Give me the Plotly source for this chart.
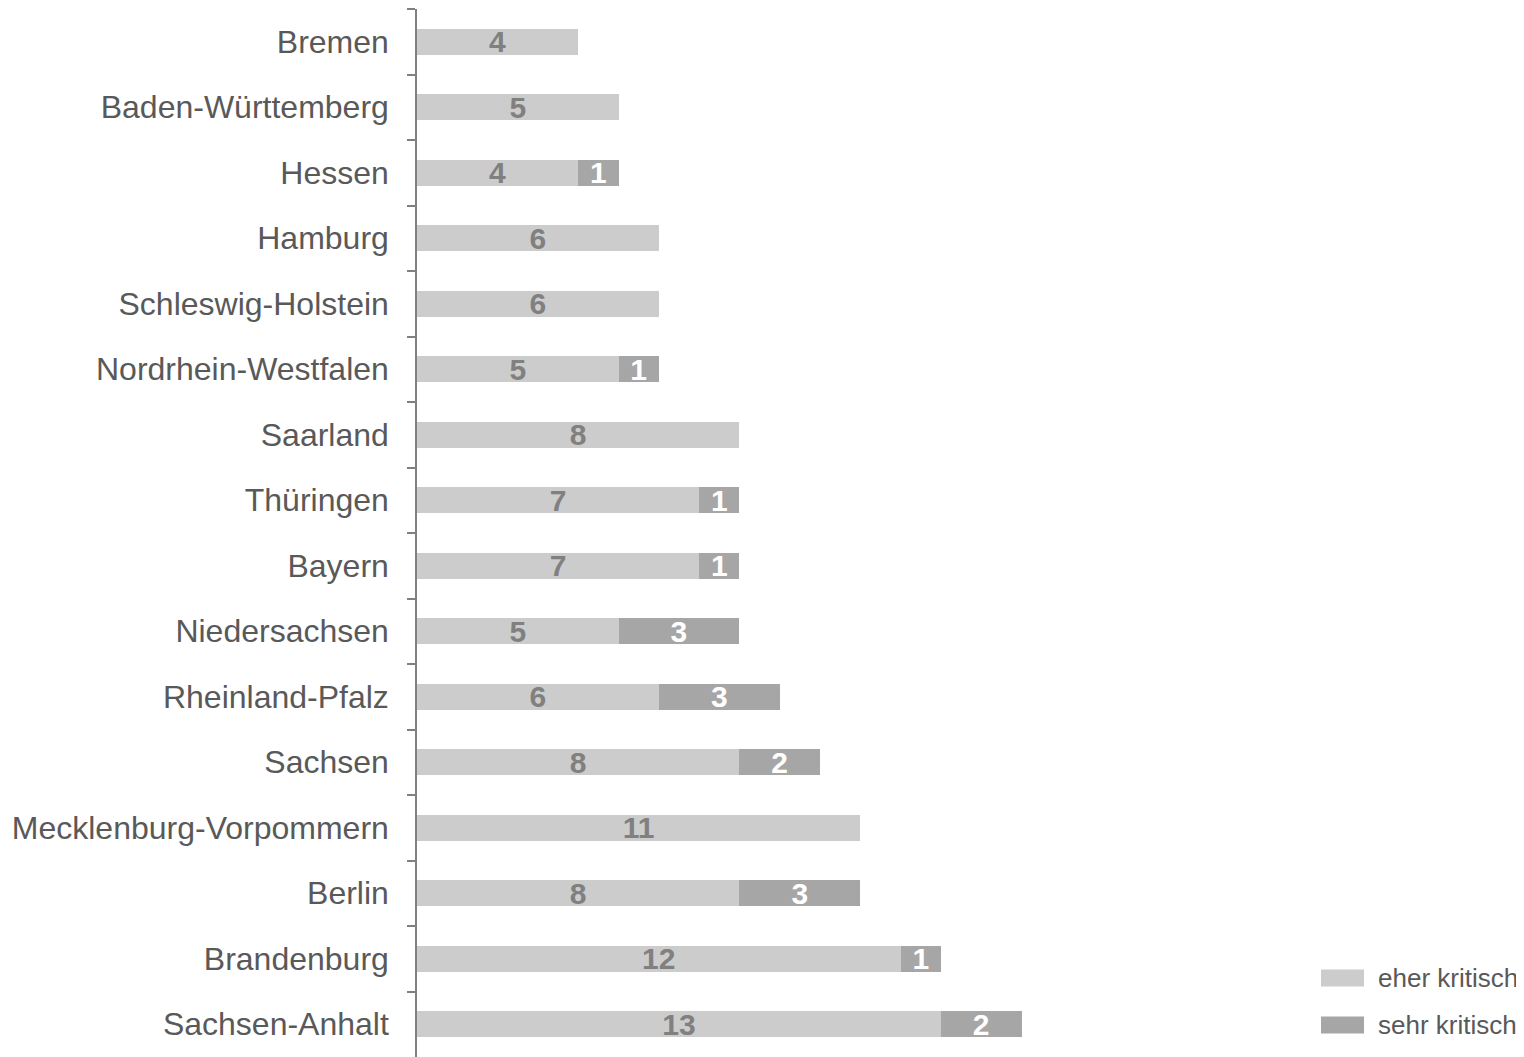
import plotly.graph_objects as go

categories = ["Bremen", "Baden-Württemberg", "Hessen", "Hamburg", "Schleswig-Holstein",
              "Nordrhein-Westfalen", "Saarland", "Thüringen", "Bayern", "Niedersachsen",
              "Rheinland-Pfalz", "Sachsen", "Mecklenburg-Vorpommern", "Berlin",
              "Brandenburg", "Sachsen-Anhalt"]
eher_kritisch = [4, 5, 4, 6, 6, 5, 8, 7, 7, 5, 6, 8, 11, 8, 12, 13]
sehr_kritisch = [0, 0, 1, 0, 0, 1, 0, 1, 1, 3, 3, 2, 0, 3, 1, 2]
series_names = ["eher kritisch", "sehr kritisch"]

OFF = 8  # browser body margin
W, H = 1524 - OFF, 1057 - OFF
L, R, T, B = 417 - OFF, 221, 9 - OFF, 0
PX_PER_UNIT = 40.3
plot_w = W - L - R
x_max = plot_w / PX_PER_UNIT

light, dark = "#cccccc", "#a6a6a6"
text_gray = "#595959"

def lab(vals):
    return [str(v) if v else "" for v in vals]

fig = go.Figure()
fig.add_trace(go.Bar(
    y=categories, x=eher_kritisch, orientation="h", name=series_names[0],
    marker=dict(color=light, line=dict(width=0)), width=0.4,
    text=lab(eher_kritisch), textposition="inside", insidetextanchor="middle",
    textangle=0, constraintext="none",
    textfont=dict(family="Liberation Sans, Arial", size=30, color="#808080", weight="bold"),
    showlegend=False, hoverinfo="skip"))
fig.add_trace(go.Bar(
    y=categories, x=sehr_kritisch, orientation="h", name=series_names[1],
    marker=dict(color=dark, line=dict(width=0)), width=0.4,
    text=lab(sehr_kritisch), textposition="inside", insidetextanchor="middle",
    textangle=0, constraintext="none",
    textfont=dict(family="Liberation Sans, Arial", size=30, color="#ffffff", weight="bold"),
    showlegend=False, hoverinfo="skip"))

plot_h = H - T - B
def px_x(p):
    return (p - OFF - L) / plot_w
def px_y(p):
    return 1 - (p - OFF - T) / plot_h

shapes = []
annotations = []
legend_items = [(series_names[0], light, 978), (series_names[1], dark, 1025)]
for name, col, cy in legend_items:
    shapes.append(dict(type="rect", xref="paper", yref="paper",
                       x0=px_x(1321), x1=px_x(1364), y0=px_y(cy + 8.5), y1=px_y(cy - 8.5),
                       fillcolor=col, line=dict(width=0)))
    annotations.append(dict(xref="paper", yref="paper", x=px_x(1376), y=px_y(cy),
                            xanchor="left", yanchor="middle", showarrow=False, text=name,
                            font=dict(family="Liberation Sans, Arial", size=26, color=text_gray)))

fig.update_layout(
    width=W, height=H, margin=dict(l=L, r=R, t=T, b=B),
    barmode="stack", plot_bgcolor="white", paper_bgcolor="white",
    bargap=0.6, shapes=shapes, annotations=annotations,
    xaxis=dict(range=[0, x_max], visible=False, fixedrange=True),
    yaxis=dict(autorange="reversed", type="category", showline=True, linecolor="#808080",
               linewidth=1.5, ticks="outside", tickson="boundaries", ticklen=8,
               tickcolor="#808080", tickwidth=1.5, ticklabelstandoff=20,
               tickfont=dict(family="Liberation Sans, Arial", size=32, color=text_gray),
               showgrid=False, zeroline=False, fixedrange=True),
    font=dict(family="Liberation Sans, Arial"),
)

fig.write_html("out.html")
